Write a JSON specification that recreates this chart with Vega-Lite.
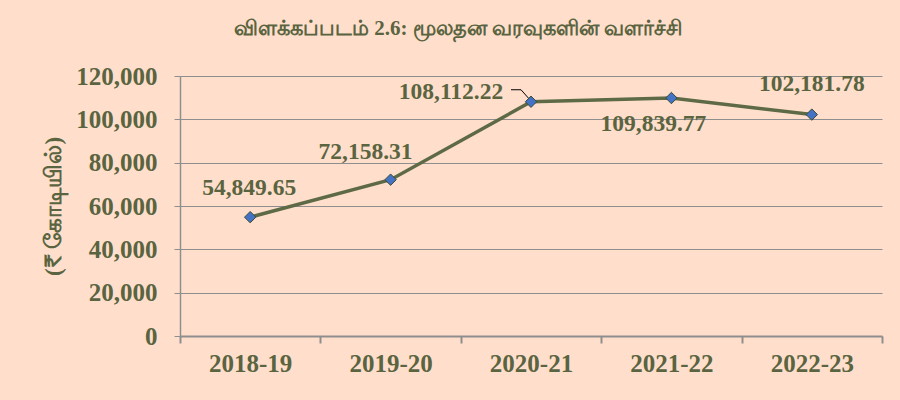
{
  "$schema": "https://vega.github.io/schema/vega-lite/v6.json",
  "width": 702,
  "height": 260,
  "autosize": {"type": "none"},
  "padding": {"left": 180, "top": 76, "right": 18, "bottom": 64},
  "background": "#FFDFCC",
  "config": {
    "view": {"stroke": null},
    "font": "Liberation Serif"
  },
  "title": {
    "text": "விளக்கப்படம் 2.6: மூலதன வரவுகளின் வளர்ச்சி",
    "fontSize": 21,
    "fontWeight": "bold",
    "color": "#5A6440",
    "font": "Liberation Serif",
    "anchor": "middle",
    "dx": -73,
    "offset": 25
  },
  "data": {
    "values": [
      {"year": "2018-19", "value": 54849.65, "label": "54,849.65"},
      {"year": "2019-20", "value": 72158.31, "label": "72,158.31"},
      {"year": "2020-21", "value": 108112.22, "label": "108,112.22"},
      {"year": "2021-22", "value": 109839.77, "label": "109,839.77"},
      {"year": "2022-23", "value": 102181.78, "label": "102,181.78"}
    ]
  },
  "encoding": {
    "x": {
      "field": "year",
      "type": "ordinal",
      "sort": null,
      "scale": {"type": "band", "paddingInner": 0, "paddingOuter": 0},
      "axis": {
        "title": null,
        "labelAngle": 0,
        "labelFontSize": 25,
        "labelFontWeight": "bold",
        "labelColor": "#5A6440",
        "labelPadding": 8,
        "tickBand": "extent",
        "tickSize": 7,
        "tickColor": "#8E8E8E",
        "tickWidth": 2,
        "domainColor": "#8E8E8E",
        "domainWidth": 2,
        "grid": false
      }
    },
    "y": {
      "field": "value",
      "type": "quantitative",
      "scale": {"domain": [0, 120000]},
      "axis": {
        "title": "(₹ கோடியில்)",
        "titleFontSize": 23,
        "titleFontWeight": "bold",
        "titleColor": "#5A6440",
        "titlePadding": 10,
        "values": [0, 20000, 40000, 60000, 80000, 100000, 120000],
        "format": ",.0f",
        "labelFontSize": 25,
        "labelFontWeight": "bold",
        "labelColor": "#5A6440",
        "labelPadding": 17,
        "tickSize": 6,
        "tickColor": "#8E8E8E",
        "domainColor": "#8E8E8E",
        "domainWidth": 1.5,
        "gridColor": "#8E8E8E",
        "gridWidth": 1.2
      }
    }
  },
  "layer": [
    {
      "mark": {"type": "line", "color": "#5E6A45", "strokeWidth": 3.5}
    },
    {
      "transform": [{"filter": "datum.year == '2020-21'"}],
      "mark": {"type": "rule", "color": "#000000", "strokeWidth": 1, "xOffset": -20, "x2Offset": -10, "yOffset": -12, "y2Offset": -12},
      "encoding": {"x2": {"field": "year"}, "y2": {"field": "value"}}
    },
    {
      "transform": [{"filter": "datum.year == '2020-21'"}],
      "mark": {"type": "rule", "color": "#000000", "strokeWidth": 1, "xOffset": -10, "x2Offset": -2, "yOffset": -12, "y2Offset": -3},
      "encoding": {"x2": {"field": "year"}, "y2": {"field": "value"}}
    },
    {
      "mark": {"type": "point", "shape": "diamond", "filled": true, "size": 130, "fill": "#4472C4", "stroke": "#3A4A35", "strokeWidth": 1, "opacity": 1}
    },
    {
      "transform": [{"filter": "datum.year == '2018-19'"}],
      "mark": {"type": "text", "fontSize": 23.5, "fontWeight": "bold", "color": "#5A6440", "dx": -1, "dy": -29},
      "encoding": {"text": {"field": "label"}}
    },
    {
      "transform": [{"filter": "datum.year == '2019-20'"}],
      "mark": {"type": "text", "fontSize": 23.5, "fontWeight": "bold", "color": "#5A6440", "dx": -25, "dy": -28},
      "encoding": {"text": {"field": "label"}}
    },
    {
      "transform": [{"filter": "datum.year == '2020-21'"}],
      "mark": {"type": "text", "fontSize": 23.5, "fontWeight": "bold", "color": "#5A6440", "dx": -80, "dy": -10},
      "encoding": {"text": {"field": "label"}}
    },
    {
      "transform": [{"filter": "datum.year == '2021-22'"}],
      "mark": {"type": "text", "fontSize": 23.5, "fontWeight": "bold", "color": "#5A6440", "dx": -18, "dy": 26},
      "encoding": {"text": {"field": "label"}}
    },
    {
      "transform": [{"filter": "datum.year == '2022-23'"}],
      "mark": {"type": "text", "fontSize": 23.5, "fontWeight": "bold", "color": "#5A6440", "dx": 0, "dy": -31},
      "encoding": {"text": {"field": "label"}}
    }
  ]
}
